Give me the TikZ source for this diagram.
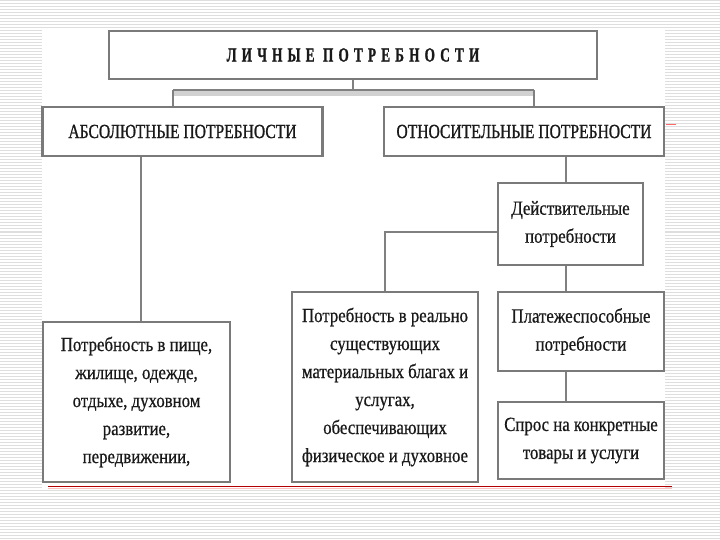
\documentclass[tikz,border=0pt]{standalone}
\usepackage{fontspec}
\usepackage{tikz}
\usetikzlibrary{positioning}
\newfontfamily\bodyfont[FakeStretch=0.84,FakeBold=0.6]{Liberation Serif}
\newfontfamily\capsfont[FakeStretch=0.78,FakeBold=1]{Liberation Serif}
\newfontfamily\titlefont[FakeStretch=0.66,LetterSpace=26,FakeBold=1.2]{Liberation Serif}

\begin{document}
\begin{tikzpicture}[
  x=1pt, y=-1pt,
  box/.style      ={draw=black!52, line width=2.4pt, fill=white, text=black!90,
                    align=center, inner sep=3pt},
  titlebox/.style ={box, minimum width=488pt, minimum height=48pt,
                    font=\titlefont\bfseries\fontsize{20}{24}\selectfont},
  headbox/.style  ={box, minimum width=280pt, minimum height=49pt,
                    font=\capsfont\fontsize{20}{24}\selectfont},
  textbox/.style  ={box, font=\bodyfont\fontsize{20}{28}\selectfont},
  link/.style     ={draw=black!50, line width=1.8pt},
  stripe/.style   ={draw=black!13, line width=1pt}
]
\useasboundingbox (0,0) rectangle (720,540);

%%% ---- slide background ----------------------------------------------
\fill[white] (0,0) rectangle (720,540);
\foreach \y in {1,4,...,540}
  \draw[stripe] (0,\y) -- (720,\y);
\fill[white] (42,28) rectangle (665,490);

%%% ---- top row -------------------------------------------------------
\node[titlebox] (lichn) at (353,55)    {ЛИЧНЫЕ ПОТРЕБНОСТИ};

% Row B: the two kinds
\node[headbox]  (abs)   at (182.5,131.5) {АБСОЛЮТНЫЕ ПОТРЕБНОСТИ};
\node[headbox]  (otn)   at (524,131.5)   {ОТНОСИТЕЛЬНЫЕ ПОТРЕБНОСТИ};

% Row C: real needs
\node[textbox, minimum width=145pt, minimum height=82pt]
      (deistv) at (570.5,224) {Действительные\\потребности};

% Row D: lower boxes
\node[textbox, minimum width=187pt, minimum height=160pt]
      (pishcha) at (136.5,402) {Потребность в пище,\\жилище, одежде,\\отдыхе, духовном\\развитие,\\передвижении,};
\node[textbox, minimum width=186pt, minimum height=190pt]
      (realno)  at (385,387)   {Потребность в реально\\существующих\\материальных благах и\\услугах,\\обеспечивающих\\физическое и духовное};
\node[textbox, minimum width=166pt, minimum height=79pt]
      (plat)    at (581,331.5) {Платежеспособные\\потребности};
\node[textbox, minimum width=166pt, minimum height=77pt]
      (spros)   at (581,440.5) {Спрос на конкретные\\товары и услуги};

%%% ---- connectors ----------------------------------------------------
\coordinate (busL) at (173,90);
\coordinate (busR) at (534,90);
\draw[black!18, line width=5pt] ([yshift=-3.5pt]busL) -- ([yshift=-3.5pt]busR);
\draw[link] (busL) -- (busR);
\draw[link] (lichn.south) -- (lichn.south |- busL);
\draw[link] (busL) -- (busL |- abs.north);
\draw[link] (busR) -- (busR |- otn.north);

\draw[link] (abs.south -| 141,0) -- (pishcha.north -| 141,0);
\draw[link] (otn.south -| 566,0) -- (deistv.north -| 566,0);
\draw[link] ([yshift=-8pt]deistv.west) -| (realno.north);
\draw[link] (deistv.south -| 566,0) -- (plat.north -| 566,0);
\draw[link] (plat.south -| 566,0) -- (spros.north -| 566,0);

% red rule under the chart
\draw[red!25, line width=1.5pt] (48,488.5) -- (672,488.5);
\draw[red!70!black, line width=0.9pt] (48,486.5) -- (672,486.5);
\draw[red!60, line width=0.8pt] (666,124) -- (676,124);

\end{tikzpicture}
\end{document}
